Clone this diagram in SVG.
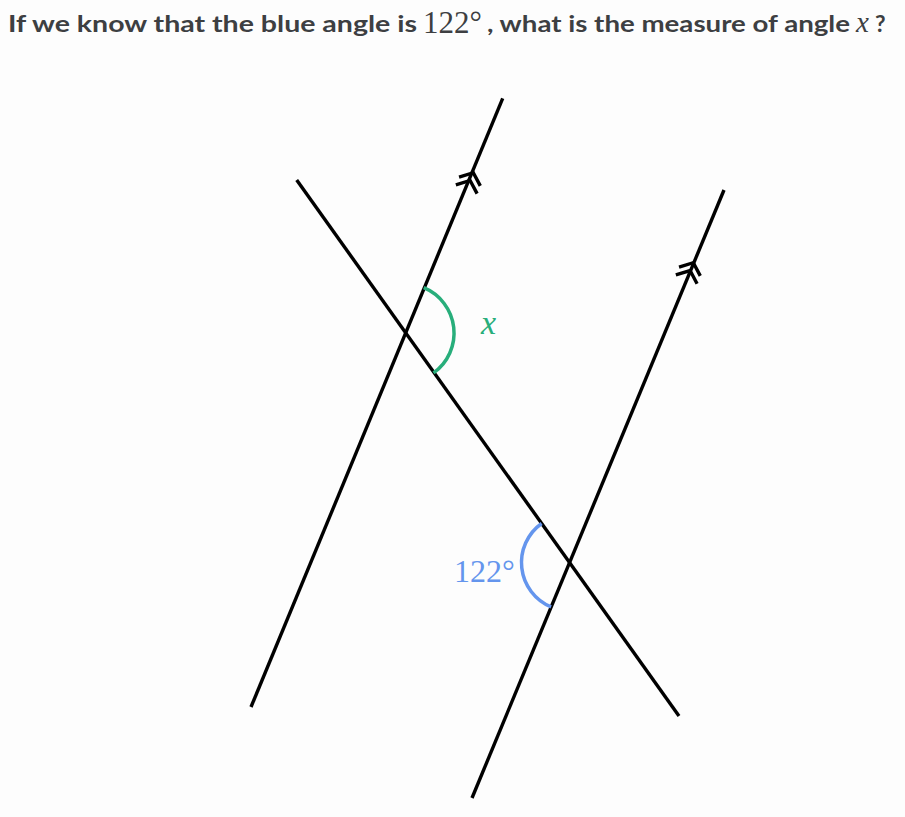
<svg xmlns="http://www.w3.org/2000/svg" xmlns:xlink="http://www.w3.org/1999/xlink" width="905" height="817" viewBox="0 0 905 817">
<style>
.title{font-family:Lato,"Open Sans","Liberation Sans",sans-serif;font-weight:700;font-size:23px;fill:#3d3f42}
.math{font-family:"Liberation Serif","DejaVu Serif",serif}
.ln{stroke:#000;stroke-width:3.4;fill:none;stroke-linecap:butt}
.chev{stroke:#000;stroke-width:3.4;fill:none}
.arc{fill:none;stroke-width:3.5}
</style>
<defs>
<path id="chev" class="chev" d="M-11.5,9.5 L0,0 L11.5,9.5"/>
</defs>
<rect width="905" height="817" fill="#fdfdfd"/>
<g id="title">
<text class="title" x="8" y="32" textLength="409" lengthAdjust="spacingAndGlyphs">If we know that the blue angle is</text>
<text class="math" x="423" y="33" font-size="31" fill="#3d3f42">122°</text>
<text class="title" x="487" y="32" textLength="363" lengthAdjust="spacingAndGlyphs">, what is the measure of angle</text>
<text class="math" x="856" y="32" font-size="29" font-style="italic" fill="#3d3f42">x</text>
<text class="title" x="875" y="32">?</text>
</g>
<g id="connectors">
<line id="line1" class="ln" x1="251" y1="707" x2="502.7" y2="98.3"/>
<line id="line2" class="ln" x1="472" y1="798" x2="724" y2="190"/>
<line id="transversal" class="ln" x1="296.7" y1="180" x2="679" y2="716"/>
<use xlink:href="#chev" transform="translate(473.3,172.7) rotate(22.4)"/>
<use xlink:href="#chev" transform="translate(470.1,180.5) rotate(22.4)"/>
<use xlink:href="#chev" transform="translate(693.3,262.7) rotate(22.5)"/>
<use xlink:href="#chev" transform="translate(690.1,270.5) rotate(22.5)"/>
</g>
<g id="angle-x">
<path class="arc" stroke="#28ae7b" d="M423.7,287.7 A49,49 0 0 1 433.5,372.9"/>
<text class="math" x="481" y="334" font-size="34" font-style="italic" fill="#28ae7b">x</text>
</g>
<g id="angle-122">
<path class="arc" stroke="#6495ed" d="M541.6,523.5 A48,48 0 0 0 551.1,606.9"/>
<text class="math" x="454" y="582" font-size="32" fill="#6495ed">122°</text>
</g>
</svg>
